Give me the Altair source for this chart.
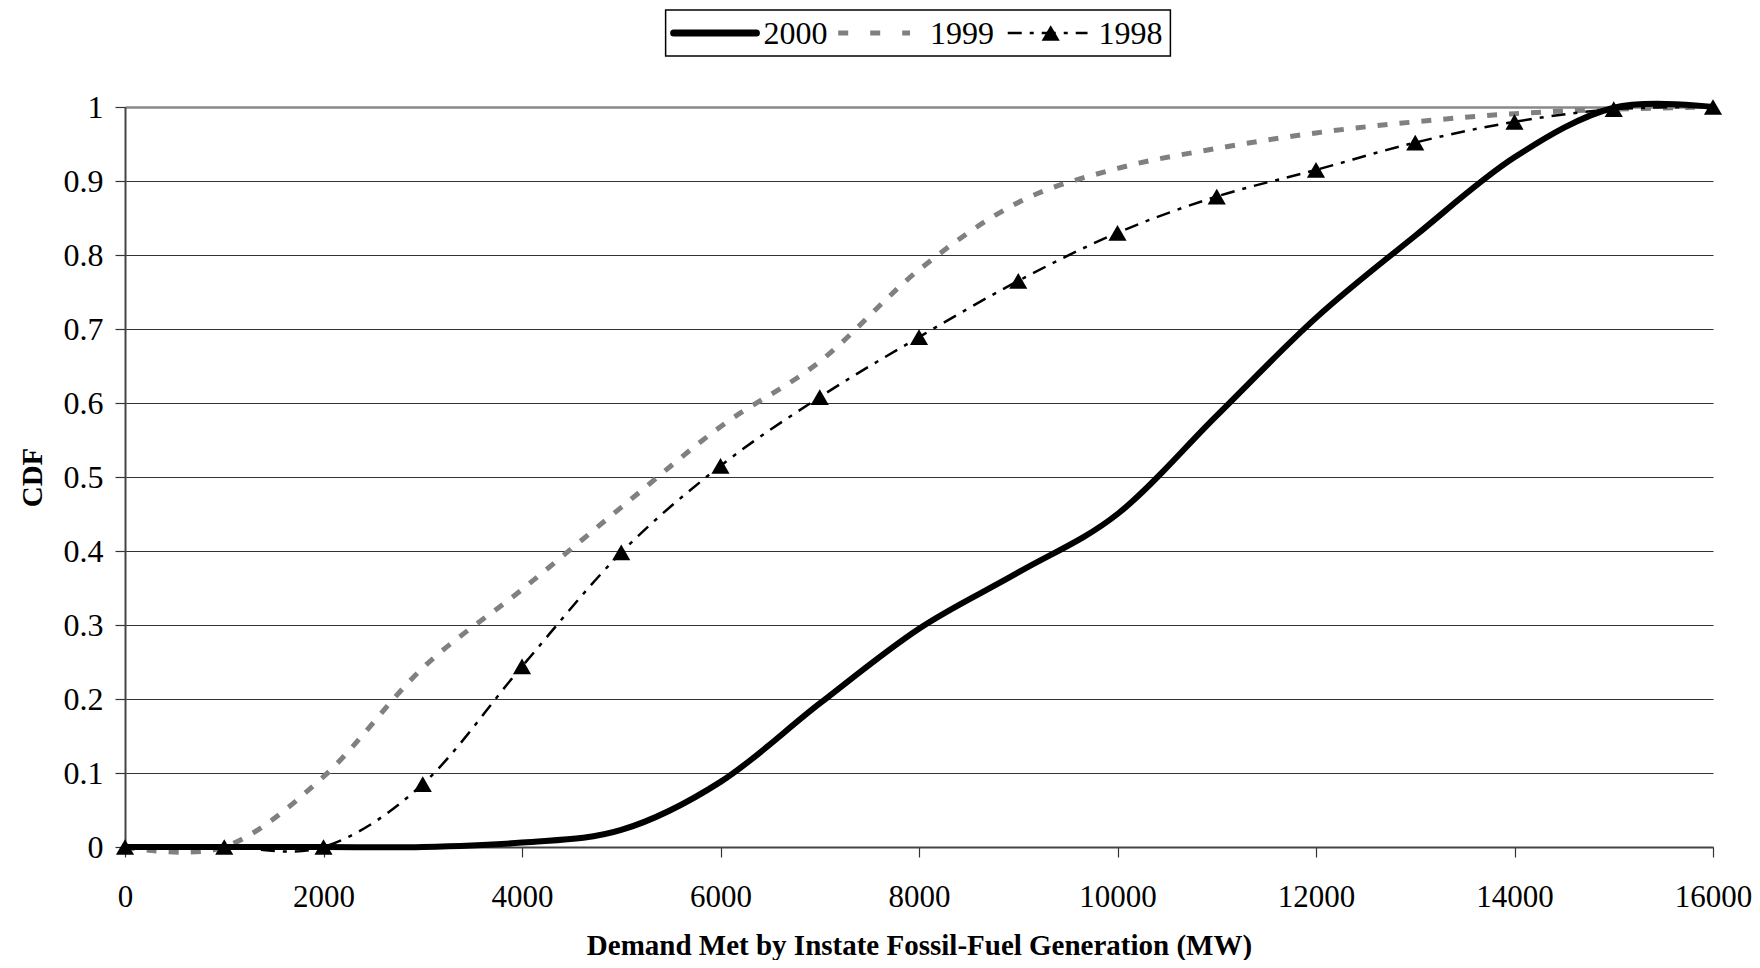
import altair as alt
import pandas as pd

# ---------------- data ----------------
demand_mw = [0, 1000, 2000, 3000, 4000, 5000, 6000, 7000, 8000,
             9000, 10000, 11000, 12000, 13000, 14000, 15000, 16000]
cdf_2000 = [0.0, 0.0, 0.0, 0.0, 0.006, 0.023, 0.088, 0.194, 0.295,
            0.371, 0.450, 0.583, 0.715, 0.826, 0.932, 0.999, 1.0]
cdf_1999 = [0.0, 0.0, 0.095, 0.242, 0.348, 0.459, 0.568, 0.656, 0.780,
            0.871, 0.917, 0.944, 0.965, 0.980, 0.991, 0.997, 1.0]
cdf_1998 = [0.0, 0.0, 0.0, 0.085, 0.244, 0.398, 0.515, 0.608, 0.689,
            0.765, 0.830, 0.879, 0.915, 0.952, 0.980, 0.997, 1.0]
series_names = ["2000", "1999", "1998"]
x_ticks = [0, 2000, 4000, 6000, 8000, 10000, 12000, 14000, 16000]
y_ticks = [0, 0.1, 0.2, 0.3, 0.4, 0.5, 0.6, 0.7, 0.8, 0.9, 1.0]
x_title = "Demand Met by Instate Fossil-Fuel Generation (MW)"
y_title = "CDF"

FONT = "Liberation Serif"

df = pd.DataFrame({
    "mw": demand_mw * 3,
    "cdf": cdf_2000 + cdf_1999 + cdf_1998,
    "series": [series_names[0]] * len(demand_mw)
              + [series_names[1]] * len(demand_mw)
              + [series_names[2]] * len(demand_mw),
})

# legend layout (in chart data units, placed above the plot area)
legend_box = pd.DataFrame({"x": [5447], "x2": [10533], "y": [1.069], "y2": [1.131]})
legend_y = 1.100
legend_items = pd.DataFrame({
    "series": series_names,
    "x": [5528, 7186, 8894],
    "x2": [6362, 7910, 9698],
    "tx": [6432, 8111, 9809],
    "y": [legend_y] * 3,
})
legend_marker = pd.DataFrame({"x": [9327], "y": [legend_y]})

x_scale = alt.Scale(domain=[0, 16000], nice=False, zero=False)
y_scale = alt.Scale(domain=[0, 1], nice=False, zero=False)

x_axis = alt.Axis(
    values=x_ticks, format="d", grid=False, labelFlush=False,
    domainColor="#444", domainWidth=2, tickColor="#333", tickWidth=1.2, tickSize=10,
    labelFont=FONT, labelFontSize=31, labelColor="black", labelPadding=25,
    titleFont=FONT, titleFontSize=29, titleFontWeight="bold", titleColor="black",
    titlePadding=19,
)
y_axis = alt.Axis(
    values=y_ticks, format="~g", grid=True,
    gridColor={"condition": {"test": "datum.value >= 1", "value": "#888"}, "value": "#333"},
    gridWidth={"condition": {"test": "datum.value >= 1", "value": 2.5}, "value": 1.2},
    domainColor="#444", domainWidth=2, tickColor="#333", tickWidth=1.2, tickSize=10,
    labelFont=FONT, labelFontSize=32, labelColor="black", labelPadding=12,
    titleFont=FONT, titleFontSize=29, titleFontWeight="bold", titleColor="black",
    titlePadding=16,
)


def X(field):
    return alt.X(field, type="quantitative", scale=x_scale, axis=x_axis, title=x_title)


def Y(field):
    return alt.Y(field, type="quantitative", scale=y_scale, axis=y_axis, title=y_title)


base = alt.Chart(df)

line_2000 = base.transform_filter(alt.datum.series == "2000").mark_line(
    interpolate="cardinal", color="black", strokeWidth=6, strokeCap="round"
).encode(x=X("mw"), y=Y("cdf"))

line_1999 = base.transform_filter(alt.datum.series == "1999").mark_line(
    interpolate="cardinal", color="#808080", strokeWidth=5, strokeDash=[10, 12]
).encode(x=X("mw"), y=Y("cdf"))

line_1998 = base.transform_filter(alt.datum.series == "1998").mark_line(
    interpolate="cardinal", color="black", strokeWidth=2.5, strokeDash=[14, 8, 4, 8]
).encode(x=X("mw"), y=Y("cdf"))

pts_1998 = base.transform_filter(alt.datum.series == "1998").mark_point(
    shape="triangle-up", filled=True, color="black", size=330, opacity=1
).encode(x=X("mw"), y=Y("cdf"))

# ---------------- legend ----------------
leg_box = alt.Chart(legend_box).mark_rect(
    fill="white", stroke="black", strokeWidth=1.5
).encode(x=X("x"), x2="x2", y=Y("y"), y2="y2")

leg_2000 = alt.Chart(legend_items).transform_filter(alt.datum.series == "2000").mark_rule(
    color="black", strokeWidth=7, strokeCap="round"
).encode(x=X("x"), x2="x2", y=Y("y"))

leg_1999 = alt.Chart(legend_items).transform_filter(alt.datum.series == "1999").mark_rule(
    color="#808080", strokeWidth=5, strokeDash=[10, 22]
).encode(x=X("x"), x2="x2", y=Y("y"))

leg_1998 = alt.Chart(legend_items).transform_filter(alt.datum.series == "1998").mark_rule(
    color="black", strokeWidth=2.5, strokeDash=[14, 8, 4, 8]
).encode(x=X("x"), x2="x2", y=Y("y"))

leg_marker = alt.Chart(legend_marker).mark_point(
    shape="triangle-up", filled=True, color="black", size=330, opacity=1
).encode(x=X("x"), y=Y("y"))

leg_text = alt.Chart(legend_items).mark_text(
    align="left", baseline="middle", font=FONT, fontSize=32, color="black", dy=1
).encode(x=X("tx"), y=Y("y"), text="series:N")

chart = alt.layer(
    line_1999, line_1998, pts_1998, line_2000,
    leg_box, leg_2000, leg_1999, leg_1998, leg_marker, leg_text,
).properties(
    width=1588,
    height=740,
    autosize=alt.AutoSizeParams(type="none"),
    padding={"left": 117, "top": 99, "right": 39, "bottom": 113},
    background="white",
).configure_view(stroke=None)

chart.save("out.html", embed_options={"renderer": "svg", "actions": False})
